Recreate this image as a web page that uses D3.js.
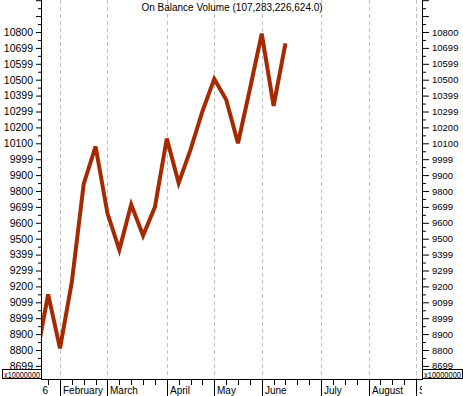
<!DOCTYPE html>
<html>
<head>
<meta charset="utf-8">
<script src="https://cdn.jsdelivr.net/npm/d3@7"></script>
<style>
  body { margin: 0; background: #fff; }
  svg { display: block; font-family: "Liberation Sans", Arial, sans-serif; }
</style>
</head>
<body>
<svg id="chart" width="463" height="396"></svg>
<script>
// Weekly On Balance Volume, values in units of 10,000,000
const weekDates = ["2006-01-20", "2006-01-27", "2006-02-03", "2006-02-10", "2006-02-17", "2006-02-24",
    "2006-03-03", "2006-03-10", "2006-03-17", "2006-03-24", "2006-03-31", "2006-04-07",
    "2006-04-14", "2006-04-21", "2006-04-28", "2006-05-05", "2006-05-12", "2006-05-19",
    "2006-05-26", "2006-06-02", "2006-06-09", "2006-06-16"]
const obvValues = [8750, 9150, 8810, 9230, 9845, 10080,
    9660, 9430, 9715, 9520, 9700, 10130,
    9850, 10060, 10300, 10505, 10375, 10100,
    10440, 10790, 10335, 10728]

const yTickValues = [10800, 10700, 10600, 10500, 10400, 10300, 10200, 10100, 10000, 9900, 9800,
    9700, 9600, 9500, 9400, 9300, 9200, 9100, 9000, 8900, 8800, 8700]
const yTickLabels = ["10800", "10699", "10599", "10500", "10399", "10299", "10200", "10100", "9999", "9900", "9800",
    "9699", "9600", "9500", "9399", "9299", "9200", "9099", "8999", "8900", "8800", "8699"]
const yExtraTicks = [10900, 11000] // unlabelled major ticks near the top

const monthStarts = ["2006-02-03", "2006-03-03", "2006-04-07", "2006-05-05", "2006-06-02", "2006-07-07", "2006-08-04", "2006-09-01"]
const monthLabels = ["February", "March", "April", "May", "June", "July", "August", "September"]
const yearLabel = "2006"
const title = "On Balance Volume (107,283,226,624.0)"
const multiplierLabel = "x10000000"

const svg = d3.select("#chart")
const plot = { left: 41, right: 422, top: 0, bottom: 379 }
const parse = d3.utcParse("%Y-%m-%d")
const origin = parse(weekDates[0])
const weekIndex = d => d3.utcFriday.count(origin, parse(d))

// x runs on week number, so every week gets the same width
const x = d3.scaleLinear().domain([2, 32]).range([60, 416])
const y = d3.scaleLinear().domain([8800, 10800]).range([350, 32])

svg.append("defs").append("clipPath").attr("id", "plot-clip")
    .append("rect").attr("x", plot.left + 1).attr("y", plot.top)
    .attr("width", plot.right - plot.left - 1).attr("height", plot.bottom - plot.top)
svg.select("defs").append("clipPath").attr("id", "label-clip")
    .append("rect").attr("x", plot.left + 1).attr("y", plot.bottom)
    .attr("width", plot.right - plot.left - 1).attr("height", 396 - plot.bottom)

// dashed month grid lines
svg.append("g").selectAll("line").data(monthStarts).join("line")
    .attr("x1", d => Math.round(x(weekIndex(d))) + 0.5)
    .attr("x2", d => Math.round(x(weekIndex(d))) + 0.5)
    .attr("y1", plot.top).attr("y2", plot.bottom)
    .attr("stroke", "#c0c0c0").attr("stroke-dasharray", "4,3")

svg.append("text").attr("x", 232).attr("y", 11).attr("text-anchor", "middle")
    .attr("font-size", 10).text(title)

// the series
const line = d3.line()
    .x((d, i) => x(weekIndex(weekDates[i])))
    .y(d => y(d))
svg.append("path").datum(obvValues)
    .attr("clip-path", "url(#plot-clip)")
    .attr("fill", "none").attr("stroke", "#a62a00").attr("stroke-width", 4)
    .attr("stroke-linejoin", "miter").attr("d", line)

// y axes, left and right
const minorTicks = d3.range(8650, 11001, 100)
const labelFor = v => yTickLabels[yTickValues.indexOf(v)] || ""

function drawYAxis(axisFn, xPos, majorSize, minorSize, fontSize) {
    const g = svg.append("g").attr("transform", `translate(${xPos},0)`)
    g.call(axisFn(y).tickValues(yTickValues.concat(yExtraTicks)).tickSize(majorSize).tickFormat(labelFor))
    g.select(".domain").remove()
    g.selectAll("text").attr("font-size", fontSize).attr("font-family", null).attr("fill", "#000")
    g.selectAll("line").attr("stroke", "#000")
    const gm = svg.append("g").attr("transform", `translate(${xPos},0)`)
    gm.call(axisFn(y).tickValues(minorTicks).tickSize(minorSize).tickFormat(""))
    gm.select(".domain").remove()
    gm.selectAll("line").attr("stroke", "#000")
    svg.append("line").attr("x1", xPos + 0.5).attr("x2", xPos + 0.5)
        .attr("y1", plot.top).attr("y2", plot.bottom + 1).attr("stroke", "#000")
}
drawYAxis(d3.axisLeft, plot.left, 5, 3, 10.5)
drawYAxis(d3.axisRight, plot.right, 7, 4, 9.5)

// multiplier boxes
function multiplierBox(bx, bw) {
    svg.append("rect").attr("x", bx + 0.5).attr("y", 369.5).attr("width", bw).attr("height", 9)
        .attr("fill", "#fff").attr("stroke", "#000")
    svg.append("text").attr("x", bx + 2).attr("y", 377.5).attr("font-size", 9)
        .attr("textLength", bw - 3).attr("lengthAdjust", "spacingAndGlyphs")
        .text(multiplierLabel)
}
multiplierBox(2, 39)
multiplierBox(plot.right, 40)

// x axis
svg.append("line").attr("x1", plot.left).attr("x2", plot.right + 1)
    .attr("y1", plot.bottom + 0.5).attr("y2", plot.bottom + 0.5).attr("stroke", "#000")
const weekTicks = d3.range(1, 33)
svg.append("g").selectAll("line").data(weekTicks).join("line")
    .attr("x1", d => Math.round(x(d)) + 0.5).attr("x2", d => Math.round(x(d)) + 0.5)
    .attr("y1", plot.bottom).attr("y2", plot.bottom + 6).attr("stroke", "#000")
svg.append("g").selectAll("line").data(monthStarts).join("line")
    .attr("x1", d => Math.round(x(weekIndex(d))) + 0.5).attr("x2", d => Math.round(x(weekIndex(d))) + 0.5)
    .attr("y1", plot.bottom).attr("y2", 396).attr("stroke", "#000")

const labels = svg.append("g").attr("clip-path", "url(#label-clip)").attr("font-size", 10)
labels.selectAll("text").data(monthStarts).join("text")
    .attr("x", d => Math.round(x(weekIndex(d))) + 3).attr("y", 394)
    .text((d, i) => monthLabels[i])
labels.append("text").attr("x", 48).attr("y", 394).attr("text-anchor", "end").text(yearLabel)
</script>
</body>
</html>
